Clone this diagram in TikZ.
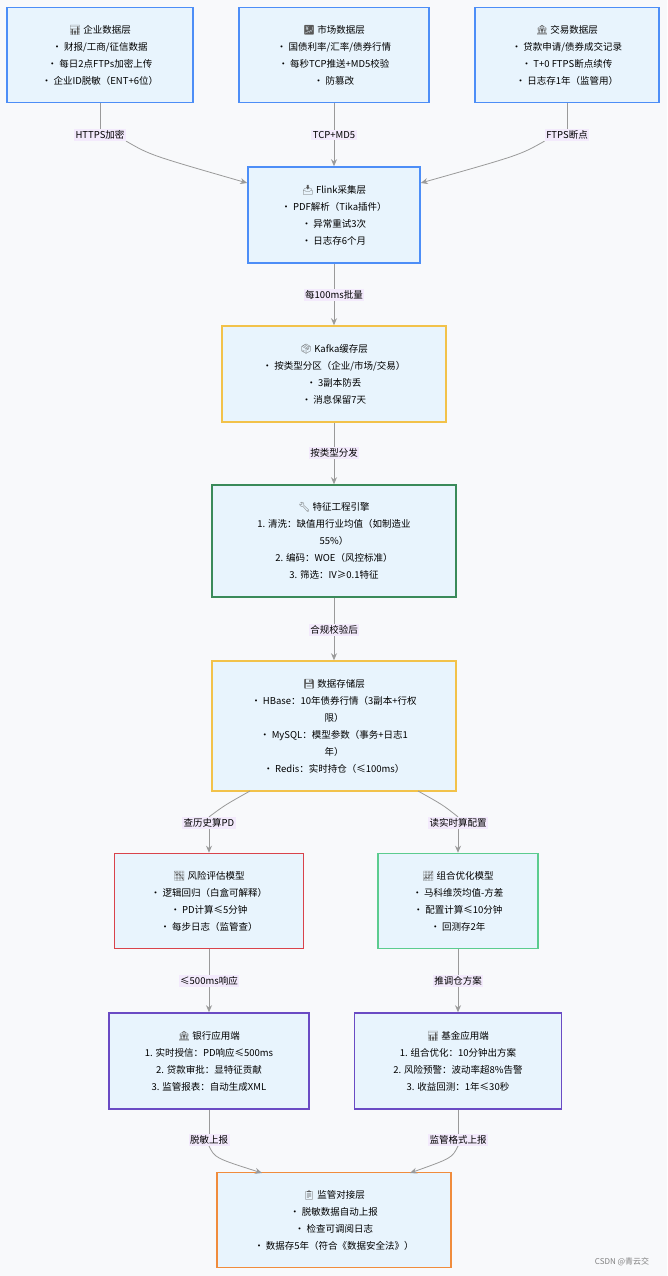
\documentclass[tikz,border=0pt]{standalone}
\usepackage{fontspec}
\setmainfont{Noto Sans CJK SC}
\newfontfamily\emo{Noto Emoji}
\usetikzlibrary{arrows.meta}
\definecolor{bg}{HTML}{F8F9FB}
\definecolor{boxfill}{HTML}{E8F4FD}
\definecolor{cblue}{HTML}{4D8EF7}
\definecolor{cyel}{HTML}{F2C24A}
\definecolor{cgreen}{HTML}{3A8A5A}
\definecolor{cred}{HTML}{D9434B}
\definecolor{clgreen}{HTML}{5CCC8F}
\definecolor{cpurp}{HTML}{6A4BC4}
\definecolor{corange}{HTML}{F08C3C}
\definecolor{lblfill}{HTML}{F3EAFC}
\definecolor{edge}{HTML}{9A9A9A}
\newcommand{\ic}[1]{{\emo\color{gray!70!black}#1}\ }
\tikzset{
 x=1pt,y=-1pt,
 bx/.style={draw=#1,line width=1.6pt,fill=boxfill,align=center,font=\fontsize{9.5}{17}\selectfont,inner sep=0pt},
 lbl/.style={fill=lblfill,font=\fontsize{9.5}{12}\selectfont,inner sep=1.5pt},
 con/.style={draw=edge,line width=0.8pt,-{Stealth[length=7pt,width=6pt]}},
 ln/.style={draw=edge,line width=0.8pt}
}
\begin{document}
\begin{tikzpicture}
\fill[bg] (0,0) rectangle (667,1276);
\useasboundingbox (0,0) rectangle (667,1276);
\node[bx=cblue,minimum width=186pt,minimum height=95pt] (A) at (100,55) {\ic{📊}企业数据层\\• 财报/工商/征信数据\\• 每日2点FTPs加密上传\\• 企业ID脱敏（ENT+6位）};
\node[bx=cblue,minimum width=190pt,minimum height=95pt] (B) at (334,55) {\ic{💹}市场数据层\\• 国债利率/汇率/债券行情\\• 每秒TCP推送+MD5校验\\• 防篡改};
\node[bx=cblue,minimum width=184pt,minimum height=95pt] (C) at (567,55) {\ic{🏦}交易数据层\\• 贷款申请/债券成交记录\\• T+0 FTPS断点续传\\• 日志存1年（监管用）};
\node[bx=cblue,minimum width=172pt,minimum height=96pt] (F) at (334,215) {\ic{📥}Flink采集层\\• PDF解析（Tika插件）\\• 异常重试3次\\• 日志存6个月};
\node[bx=cyel,minimum width=224pt,minimum height=96pt] (K) at (334,374) {\ic{📦}Kafka缓存层\\• 按类型分区（企业/市场/交易）\\• 3副本防丢\\• 消息保留7天};
\node[bx=cgreen,minimum width=244pt,minimum height=112pt] (E) at (334,541) {\ic{🔧}特征工程引擎\\1. 清洗：缺值用行业均值（如制造业\\55\%）\\2. 编码：WOE（风控标准）\\3. 筛选：IV≥0.1特征};
\node[bx=cyel,minimum width=244pt,minimum height=130pt] (S) at (334,726) {\ic{💾}数据存储层\\• HBase：10年债券行情（3副本+行权\\限）\\• MySQL：模型参数（事务+日志1\\年）\\• Redis：实时持仓（≤100ms）};
\node[bx=cred,minimum width=189pt,minimum height=95pt] (R) at (209,901) {\ic{📉}风险评估模型\\• 逻辑回归（白盒可解释）\\• PD计算≤5分钟\\• 每步日志（监管查）};
\node[bx=clgreen,minimum width=160pt,minimum height=95pt] (P) at (458,901) {\ic{📈}组合优化模型\\• 马科维茨均值-方差\\• 配置计算≤10分钟\\• 回测存2年};
\node[bx=cpurp,minimum width=200pt,minimum height=96pt] (BK) at (209,1061) {\ic{🏦}银行应用端\\1. 实时授信：PD响应≤500ms\\2. 贷款审批：显特征贡献\\3. 监管报表：自动生成XML};
\node[bx=cpurp,minimum width=207pt,minimum height=96pt] (FD) at (458,1061) {\ic{📊}基金应用端\\1. 组合优化：10分钟出方案\\2. 风险预警：波动率超8\%告警\\3. 收益回测：1年≤30秒};
\node[bx=corange,minimum width=234pt,minimum height=95pt] (G) at (334,1220) {\ic{📋}监管对接层\\• 脱敏数据自动上报\\• 检查可调阅日志\\• 数据存5年（符合《数据安全法》）};
% edges
\node[lbl] (l1) at (100,135) {HTTPS加密};
\node[lbl] (l2) at (334,135) {TCP+MD5};
\node[lbl] (l3) at (567,135) {FTPS断点};
\draw[ln] (A.south) -- (l1.north);
\draw[con] (l1.south east) .. controls (150,155) .. (F.west |- 0,183);
\draw[ln] (B.south) -- (l2.north); \draw[con] (l2.south) -- (F.north);
\draw[ln] (C.south) -- (l3.north);
\draw[con] (l3.south west) .. controls (520,155) .. (F.east |- 0,183);
\node[lbl] (l4) at (334,295) {每100ms批量};
\draw[ln] (F.south) -- (l4.north); \draw[con] (l4.south) -- (K.north);
\node[lbl] (l5) at (334,453) {按类型分发};
\draw[ln] (K.south) -- (l5.north); \draw[con] (l5.south) -- (E.north);
\node[lbl] (l6) at (334,630) {合规校验后};
\draw[ln] (E.south) -- (l6.north); \draw[con] (l6.south) -- (S.north);
\node[lbl] (l7) at (209,823) {查历史算PD};
\node[lbl] (l8) at (458,823) {读实时算配置};
\coordinate (s1) at (250,791); \coordinate (s2) at (418,791);
\draw[ln] (s1) .. controls (225,805) .. (l7.north);
\draw[con] (l7.south) -- (R.north);
\draw[ln] (s2) .. controls (443,805) .. (l8.north);
\draw[con] (l8.south) -- (P.north);
\node[lbl] (l9) at (209,981) {≤500ms响应};
\node[lbl] (l10) at (458,981) {推调仓方案};
\draw[ln] (R.south) -- (l9.north); \draw[con] (l9.south) -- (BK.north);
\draw[ln] (P.south) -- (l10.north); \draw[con] (l10.south) -- (FD.north);
\node[lbl] (l11) at (209,1140) {脱敏上报};
\node[lbl] (l12) at (458,1140) {监管格式上报};
\coordinate (g1) at (262,1173); \coordinate (g2) at (410,1173);
\draw[ln] (BK.south) -- (l11.north);
\draw[con] (l11.south) .. controls (215,1158) .. (g1);
\draw[ln] (FD.south) -- (l12.north);
\draw[con] (l12.south) .. controls (452,1158) .. (g2);
\node[font=\fontsize{8}{10}\selectfont,text=gray] (wm) at (622,1262) {CSDN @青云交};
\end{tikzpicture}
\end{document}
